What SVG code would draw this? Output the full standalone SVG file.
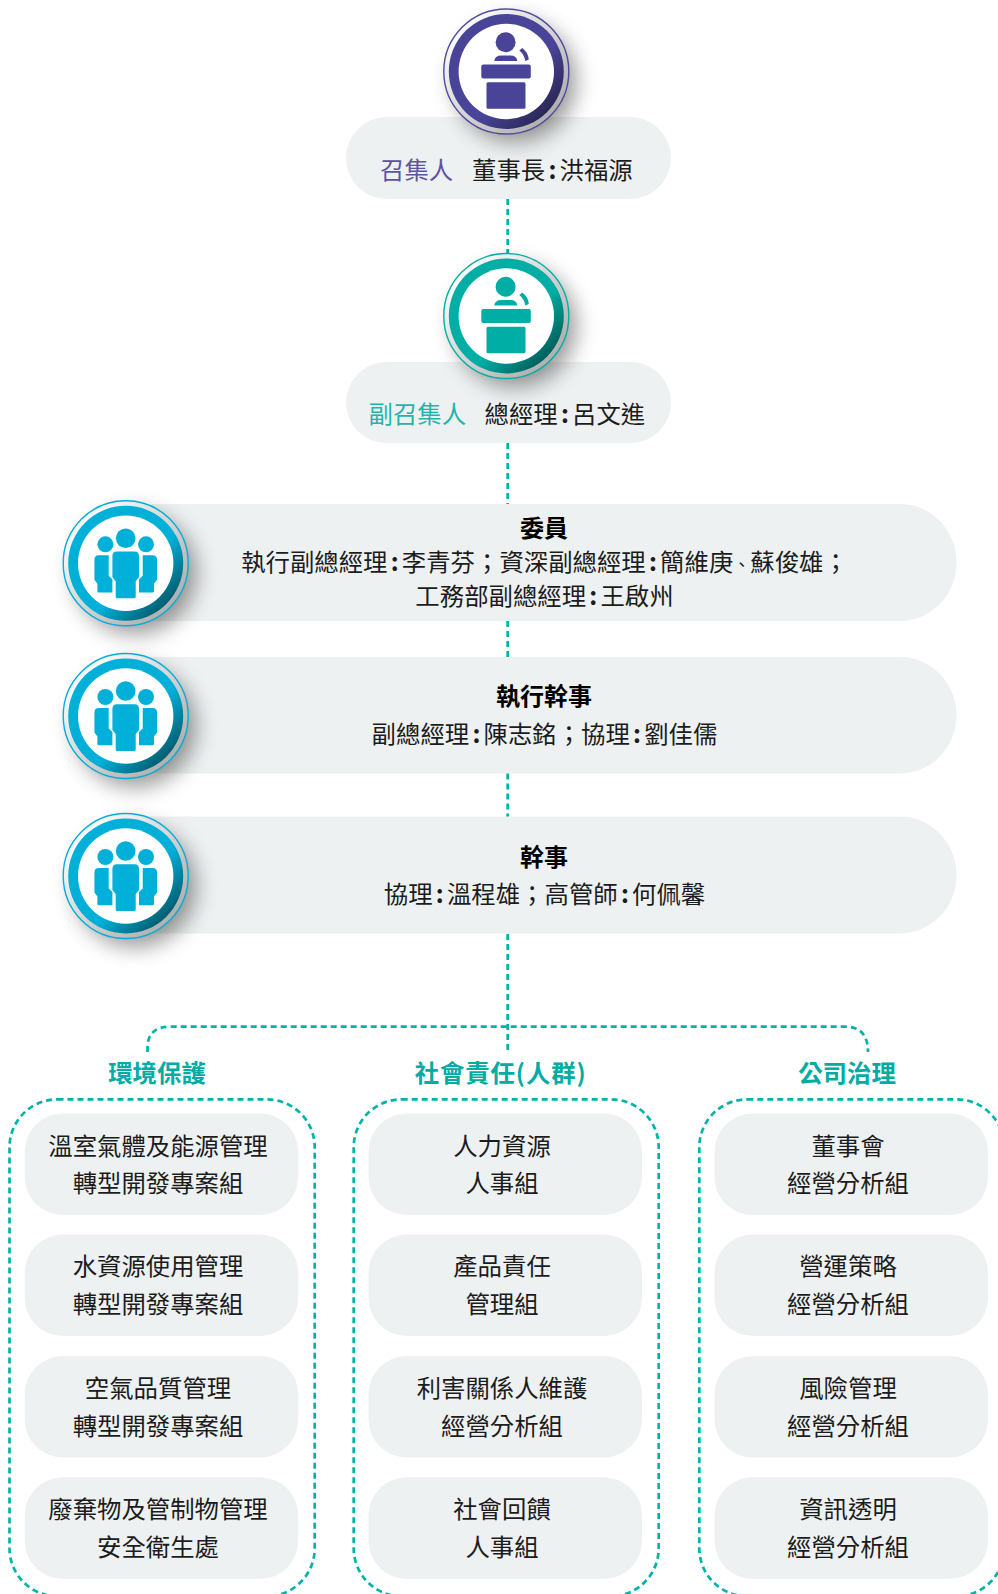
<svg xmlns="http://www.w3.org/2000/svg" width="998" height="1594" viewBox="0 0 998 1594">
<style>
text{font-family:"Noto Sans CJK TC","Noto Sans",sans-serif;font-size:24.4px;fill:#1c1c1c;text-anchor:middle}
.b{font-weight:700;font-size:24px;fill:#000}
.t{font-weight:700;font-size:24.4px;fill:#00aca3}
.w{letter-spacing:.9px}
.s{text-anchor:start}
.pu{fill:#5a53a6}
.te{fill:#1fb5ad}
.n{letter-spacing:3.2px;font-weight:700}
.k{font-size:17px}
.pill{fill:#eef1f1}
.dash{fill:none;stroke:#00b3a9;stroke-width:2.7;stroke-dasharray:6 4}
.shadow{fill:#000;opacity:.4;filter:url(#blur)}
.ringg{fill:url(#gr)}
.white{fill:#fff}
.nof{fill:none;stroke-width:1.4}
</style>
<defs>
<filter id="blur" x="-50%" y="-50%" width="200%" height="200%"><feGaussianBlur stdDeviation="10.500"/></filter>
<linearGradient id="gr" x1="0.15" y1="0.15" x2="0.85" y2="0.85"><stop offset="0" stop-color="#fbfbfb"/><stop offset="1" stop-color="#b0b0b0"/></linearGradient>
<linearGradient id="gp" x1="0.2" y1="0.2" x2="0.85" y2="0.85"><stop offset="0.6" stop-color="#4a4499"/><stop offset="1" stop-color="#2b2858"/></linearGradient>
<linearGradient id="gt" x1="0.2" y1="0.2" x2="0.85" y2="0.85"><stop offset="0.6" stop-color="#00aea5"/><stop offset="1" stop-color="#00615d"/></linearGradient>
<linearGradient id="gb" x1="0.2" y1="0.2" x2="0.85" y2="0.85"><stop offset="0.6" stop-color="#00b0d8"/><stop offset="1" stop-color="#005f73"/></linearGradient>
<g id="lectern">
<circle cx="-0.7" cy="-29.3" r="10"/>
<path d="M-12,-10.500 Q-11.500,-16 -5,-16 H4 Q10.500,-16 11,-10.500 Z"/>
<path d="M13,-21 L16,-23.500 Q22,-19 22.500,-12 L19,-10.500 Q18,-17 13,-21 Z"/>
<rect x="-25" y="-7" width="49.500" height="14" rx="2"/>
<rect x="-19.800" y="10.700" width="39" height="26.500" rx="1.500"/>
</g>
<g id="people">
<circle cx="0" cy="-25" r="9.800"/>
<circle cx="-20.300" cy="-19" r="8"/>
<circle cx="20.300" cy="-19" r="8"/>
<path d="M-9,-11.700 H9 Q13.300,-11.700 13.300,-7 V14 L10,18 V33.500 Q10,35 8.500,35 H-8.500 Q-10,35 -10,33.500 V18 L-13.300,14 V-7 Q-13.300,-11.700 -9,-11.700 Z"/>
<path d="M-17,-8 H-27 Q-31.300,-8 -31.300,-3.500 V16.500 L-28.300,20.500 V28 Q-28.300,29.300 -27,29.300 H-13.300 V16 L-17,12.500 Z"/>
<path d="M17,-8 H27 Q31.300,-8 31.300,-3.500 V16.500 L28.300,20.500 V28 Q28.300,29.300 27,29.300 H13.300 V16 L17,12.500 Z"/>
</g>
</defs>

<g id="box-pills-bg">
<rect id="node-convener-pill" class="pill" x="346" y="117" width="325" height="82" rx="41"/>
<rect id="node-vice-pill" class="pill" x="346" y="362" width="325" height="81" rx="40.500"/>
<path id="node-member-pill" class="pill" d="M125,504 H900 a56.500,58.500 0 0 1 0,117 H125 Z"/>
<path id="node-exec-pill" class="pill" d="M125,657 H900 a56.500,58.250 0 0 1 0,116.500 H125 Z"/>
<path id="node-sec-pill" class="pill" d="M125,816.500 H900 a56.500,58.500 0 0 1 0,117 H125 Z"/>
</g>

<g id="connectors">
<path class="dash" d="M507.700,199 V258"/>
<path class="dash" d="M507.700,443 V504"/>
<path class="dash" d="M507.700,621 V657"/>
<path class="dash" d="M507.700,773.500 V816.500"/>
<path class="dash" d="M507.700,934 V1053"/>
<path class="dash" d="M147.500,1052 V1048 Q147.500,1026.700 170,1026.700 H845 Q868,1026.700 868,1052"/>
</g>

<g id="node-convener">
<circle class="shadow" cx="515" cy="81" r="61"/>
<circle class="ringg" cx="506.300" cy="71.500" r="62.500"/>
<circle class="nof" stroke="#4f4aa0" cx="506.300" cy="71.500" r="62.500"/>
<circle fill="url(#gp)" cx="506.300" cy="71.500" r="57.500"/>
<circle class="white" cx="506.300" cy="71.500" r="47.700"/>
<use href="#lectern" x="506.300" y="71.500" fill="#4a4499"/>
<text class="pu s" x="380" y="179">召集人</text>
<text class="s" x="472" y="179">董事長<tspan class="n" dx="3.200">:</tspan>洪福源</text>
</g>

<g id="node-vice">
<circle class="shadow" cx="515" cy="326" r="61"/>
<circle class="ringg" cx="506.300" cy="316" r="62.500"/>
<circle class="nof" stroke="#00b0a6" cx="506.300" cy="316" r="62.500"/>
<circle fill="url(#gt)" cx="506.300" cy="316" r="57.500"/>
<circle class="white" cx="506.300" cy="316" r="47.700"/>
<use href="#lectern" x="506.300" y="316" fill="#00aea5"/>
<text class="te s" x="368.500" y="423">副召集人</text>
<text class="s" x="484.500" y="423">總經理<tspan class="n" dx="3.200">:</tspan>呂文進</text>
</g>

<g id="node-member">
<circle class="shadow" cx="135" cy="573" r="61"/>
<circle class="ringg" cx="125.700" cy="563.300" r="62.500"/>
<circle class="nof" stroke="#00b0d8" cx="125.700" cy="563.300" r="62.500"/>
<circle fill="url(#gb)" cx="125.700" cy="563.300" r="57.500"/>
<circle class="white" cx="125.700" cy="563.300" r="47.700"/>
<use href="#people" x="125.700" y="563.300" fill="#00b0d8"/>
<text class="b" x="544" y="537">委員</text>
<text x="544.500" y="571">執行副總經理<tspan class="n" dx="3.200">:</tspan>李青芬&#xFF1B;資深副總經理<tspan class="n" dx="3.200">:</tspan>簡維庚<tspan class="k">、</tspan>蘇俊雄&#xFF1B;</text>
<text x="544.500" y="605">工務部副總經理<tspan class="n" dx="3.200">:</tspan>王啟州</text>
</g>

<g id="node-exec">
<circle class="shadow" cx="135" cy="726" r="61"/>
<circle class="ringg" cx="125.700" cy="716" r="62.500"/>
<circle class="nof" stroke="#00b0d8" cx="125.700" cy="716" r="62.500"/>
<circle fill="url(#gb)" cx="125.700" cy="716" r="57.500"/>
<circle class="white" cx="125.700" cy="716" r="47.700"/>
<use href="#people" x="125.700" y="716" fill="#00b0d8"/>
<text class="b" x="544" y="704.700">執行幹事</text>
<text x="544.500" y="743">副總經理<tspan class="n" dx="3.200">:</tspan>陳志銘&#xFF1B;協理<tspan class="n" dx="3.200">:</tspan>劉佳儒</text>
</g>

<g id="node-sec">
<circle class="shadow" cx="135" cy="886" r="61"/>
<circle class="ringg" cx="125.700" cy="876" r="62.500"/>
<circle class="nof" stroke="#00b0d8" cx="125.700" cy="876" r="62.500"/>
<circle fill="url(#gb)" cx="125.700" cy="876" r="57.500"/>
<circle class="white" cx="125.700" cy="876" r="47.700"/>
<use href="#people" x="125.700" y="876" fill="#00b0d8"/>
<text class="b" x="544" y="866">幹事</text>
<text x="544.500" y="903">協理<tspan class="n" dx="3.200">:</tspan>溫程雄&#xFF1B;高管師<tspan class="n" dx="3.200">:</tspan>何佩馨</text>
</g>

<g id="group-env">
<text class="t" x="157" y="1082">環境保護</text>
<rect class="dash" x="9.500" y="1099.300" width="305.200" height="497" rx="48"/>
<g id="env-1"><rect class="pill" x="24.700" y="1113.500" width="273.500" height="101.500" rx="38"/><text x="158" y="1155">溫室氣體及能源管理</text><text x="158" y="1192">轉型開發專案組</text></g>
<g id="env-2"><rect class="pill" x="24.700" y="1234.500" width="273.500" height="101.500" rx="38"/><text x="158" y="1274.500">水資源使用管理</text><text x="158" y="1313">轉型開發專案組</text></g>
<g id="env-3"><rect class="pill" x="24.700" y="1356" width="273.500" height="101.500" rx="38"/><text x="158" y="1396.500">空氣品質管理</text><text x="158" y="1435">轉型開發專案組</text></g>
<g id="env-4"><rect class="pill" x="24.700" y="1477.300" width="273.500" height="101.500" rx="38"/><text x="158" y="1518">廢棄物及管制物管理</text><text x="158" y="1556">安全衛生處</text></g>
</g>

<g id="group-soc">
<text class="t w" x="500.700" y="1082">社會責任(人群)</text>
<rect class="dash" x="353.700" y="1099.300" width="305" height="497" rx="48"/>
<g id="soc-1"><rect class="pill" x="368.500" y="1113.500" width="273.500" height="101.500" rx="38"/><text x="502" y="1155">人力資源</text><text x="502" y="1192">人事組</text></g>
<g id="soc-2"><rect class="pill" x="368.500" y="1234.500" width="273.500" height="101.500" rx="38"/><text x="502" y="1274.500">產品責任</text><text x="502" y="1313">管理組</text></g>
<g id="soc-3"><rect class="pill" x="368.500" y="1356" width="273.500" height="101.500" rx="38"/><text x="502" y="1396.500">利害關係人維護</text><text x="502" y="1435">經營分析組</text></g>
<g id="soc-4"><rect class="pill" x="368.500" y="1477.300" width="273.500" height="101.500" rx="38"/><text x="502" y="1518">社會回饋</text><text x="502" y="1556">人事組</text></g>
</g>

<g id="group-gov">
<text class="t" x="847" y="1082">公司治理</text>
<rect class="dash" x="699.300" y="1099.300" width="305" height="497" rx="48"/>
<g id="gov-1"><rect class="pill" x="714.500" y="1113.500" width="273.500" height="101.500" rx="38"/><text x="848" y="1155">董事會</text><text x="848" y="1192">經營分析組</text></g>
<g id="gov-2"><rect class="pill" x="714.500" y="1234.500" width="273.500" height="101.500" rx="38"/><text x="848" y="1274.500">營運策略</text><text x="848" y="1313">經營分析組</text></g>
<g id="gov-3"><rect class="pill" x="714.500" y="1356" width="273.500" height="101.500" rx="38"/><text x="848" y="1396.500">風險管理</text><text x="848" y="1435">經營分析組</text></g>
<g id="gov-4"><rect class="pill" x="714.500" y="1477.300" width="273.500" height="101.500" rx="38"/><text x="848" y="1518">資訊透明</text><text x="848" y="1556">經營分析組</text></g>
</g>
</svg>
